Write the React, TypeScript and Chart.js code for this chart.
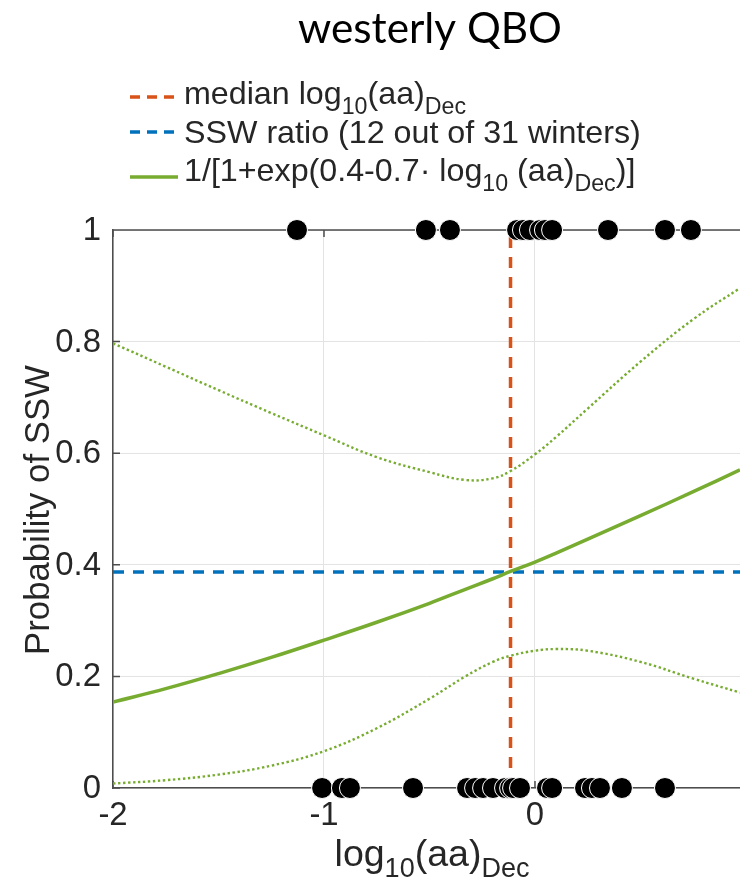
import React, { useEffect, useRef } from "react";
import { Chart, registerables } from "chart.js";

Chart.register(...registerables);

// ---- data ----
const curveX = [-2, -1.75, -1.5, -1.25, -1, -0.75, -0.5, -0.33, -0.2, -0.116, 0, 0.1, 0.25, 0.5, 0.75, 0.9716];
const fitY = [0.154, 0.178, 0.205, 0.234, 0.265, 0.297, 0.331, 0.356, 0.375, 0.388, 0.405, 0.421, 0.446, 0.488, 0.531, 0.57];
const upperY = [0.797, 0.755, 0.713, 0.672, 0.632, 0.593, 0.566, 0.552, 0.555, 0.568, 0.598, 0.629, 0.68, 0.764, 0.84, 0.896];
const lowerY = [0.008, 0.014, 0.024, 0.04, 0.066, 0.107, 0.16, 0.2, 0.226, 0.237, 0.246, 0.249, 0.246, 0.226, 0.196, 0.171];

const sswWintersX = [-1.128, -0.517, -0.403, -0.085, -0.057, -0.024, 0.024, 0.047, 0.081, 0.346, 0.616, 0.739];
const noSswWintersX = [-1.009, -0.915, -0.877, -0.578, -0.322, -0.284, -0.246, -0.199, -0.142, -0.118, -0.104, -0.071, 0.057, 0.081, 0.237, 0.27, 0.308, 0.412, 0.616];

const medianLogAa = -0.116;
const sswRatio = 0.387;

const xTicks = [-2, -1, 0];
const xTickLabels = ["-2", "-1", "0"];
const yTicks = [0, 0.2, 0.4, 0.6, 0.8, 1];
const yTickLabels = ["0", "0.2", "0.4", "0.6", "0.8", "1"];
const xMin = -2;
const xMax = 0.9716;

const titleText = "westerly QBO";
const legendLabels = [
  [{ t: "median log" }, { t: "10", sub: true }, { t: "(aa)" }, { t: "Dec", sub: true }],
  [{ t: "SSW ratio (12 out of 31 winters)" }],
  [{ t: "1/[1+exp(0.4-0.7\u00B7 log" }, { t: "10", sub: true }, { t: " (aa)" }, { t: "Dec", sub: true }, { t: ")]" }],
];
const xTitle = [{ t: "log" }, { t: "10", sub: true }, { t: "(aa)" }, { t: "Dec", sub: true }];
const yTitle = "Probability of SSW";

// ---- styles ----
const GREEN = "#77AC30";
const BLUE = "#0072BD";
const RED = "#D95319";
const AXIS = "#4d4d4d";
const GRID = "#e3e3e3";
const SANS = "'Liberation Sans', Arial, sans-serif";
const TITLE_FONT = "Lato, 'Open Sans', sans-serif";

type Part = { t: string; sub?: boolean };

function partsWidth(ctx: CanvasRenderingContext2D, parts: Part[], size: number, fam: string) {
  let w = 0;
  for (const p of parts) {
    ctx.font = `${p.sub ? size * 0.72 : size}px ${fam}`;
    w += ctx.measureText(p.t).width;
  }
  return w;
}

function drawParts(ctx: CanvasRenderingContext2D, parts: Part[], x: number, y: number, size: number, fam: string, align: "left" | "center") {
  const w = partsWidth(ctx, parts, size, fam);
  let cx = align === "center" ? x - w / 2 : x;
  ctx.textAlign = "left";
  ctx.textBaseline = "alphabetic";
  for (const p of parts) {
    const s = p.sub ? size * 0.72 : size;
    ctx.font = `${s}px ${fam}`;
    ctx.fillText(p.t, cx, p.sub ? y + size * 0.3 : y);
    cx += ctx.measureText(p.t).width;
  }
}

function fitSize(ctx: CanvasRenderingContext2D, parts: Part[], target: number, fam: string) {
  const w = partsWidth(ctx, parts, 100, fam);
  return (100 * target) / w;
}

const decorPlugin = {
  id: "decor",
  beforeDatasetsDraw(chart: any) {
    const { ctx, chartArea } = chart;
    const { left, right, top, bottom } = chartArea;
    const xs = chart.scales.x;
    const ys = chart.scales.y;
    ctx.save();
    ctx.strokeStyle = AXIS;
    ctx.lineWidth = 1.5;
    ctx.beginPath();
    ctx.moveTo(left, top);
    ctx.lineTo(right, top);
    for (const v of yTicks) {
      const py = ys.getPixelForValue(v);
      ctx.moveTo(left, py);
      ctx.lineTo(left + 7, py);
    }
    for (const v of xTicks) {
      const px = xs.getPixelForValue(v);
      ctx.moveTo(px, bottom);
      ctx.lineTo(px, bottom - 7);
      ctx.moveTo(px, top);
      ctx.lineTo(px, top + 7);
    }
    ctx.stroke();
    ctx.restore();
  },
  afterDraw(chart: any) {
    const { ctx, chartArea } = chart;
    const xs = chart.scales.x;
    const ys = chart.scales.y;
    ctx.save();

    // title
    const tSize = fitSize(ctx, [{ t: titleText }], 264, TITLE_FONT);
    ctx.fillStyle = "#000";
    drawParts(ctx, [{ t: titleText }], 430, 43, tSize, TITLE_FONT, "center");

    // legend
    ctx.fillStyle = "#262626";
    const lSize = fitSize(ctx, legendLabels[1], 457, SANS);
    const rows = [
      { y: 97, base: 104, color: RED, dash: [10, 7], w: 3.5 },
      { y: 132, base: 143, color: BLUE, dash: [10, 7], w: 3.5 },
      { y: 177, base: 181, color: GREEN, dash: [], w: 3.5 },
    ];
    rows.forEach((r, i) => {
      ctx.save();
      ctx.strokeStyle = r.color;
      ctx.lineWidth = r.w;
      ctx.setLineDash(r.dash);
      ctx.beginPath();
      ctx.moveTo(130, r.y);
      ctx.lineTo(178, r.y);
      ctx.stroke();
      ctx.restore();
      drawParts(ctx, legendLabels[i], 184, r.base, lSize, SANS, "left");
    });

    // tick labels
    const tickSize = lSize * 1.02;
    ctx.font = `${tickSize}px ${SANS}`;
    ctx.textAlign = "right";
    ctx.textBaseline = "middle";
    yTicks.forEach((v, i) => {
      ctx.fillText(yTickLabels[i], chartArea.left - 12, ys.getPixelForValue(v) + 1);
    });
    ctx.textAlign = "center";
    ctx.textBaseline = "top";
    xTicks.forEach((v, i) => {
      ctx.fillText(xTickLabels[i], xs.getPixelForValue(v), chartArea.bottom + 11);
    });

    // axis titles
    const xtSize = fitSize(ctx, xTitle, 195, SANS);
    drawParts(ctx, xTitle, 432, 866, xtSize, SANS, "center");

    const ytSize = fitSize(ctx, [{ t: yTitle }], 290, SANS);
    ctx.save();
    ctx.translate(49, 510);
    ctx.rotate(-Math.PI / 2);
    drawParts(ctx, [{ t: yTitle }], 0, 0, ytSize, SANS, "center");
    ctx.restore();

    ctx.restore();
  },
};

const zeroPad = (s: any) => {
  s.paddingLeft = 0;
  s.paddingRight = 0;
  s.paddingTop = 0;
  s.paddingBottom = 0;
};

export default function App() {
  const ref = useRef<HTMLCanvasElement | null>(null);
  useEffect(() => {
    document.body.style.margin = "0";
    const canvas = ref.current!;
    const pts = (xs: number[], ys: number[]) => xs.map((x, i) => ({ x, y: ys[i] }));
    const marker = {
      showLine: false,
      pointRadius: 10.5,
      pointBackgroundColor: "#000",
      pointBorderColor: "#fff",
      pointBorderWidth: 1,
      clip: false as any,
      order: 0,
    };
    const chart = new Chart(canvas, {
      type: "line",
      data: {
        datasets: [
          { label: "SSW", data: sswWintersX.map((x) => ({ x, y: 1 })), ...marker },
          { label: "no SSW", data: noSswWintersX.map((x) => ({ x, y: 0 })), ...marker },
          {
            label: "fit",
            data: pts(curveX, fitY),
            borderColor: GREEN,
            borderWidth: 3.5,
            pointRadius: 0,
            tension: 0.4,
            order: 1,
          },
          {
            label: "upper",
            data: pts(curveX, upperY),
            borderColor: GREEN,
            borderWidth: 2.4,
            borderDash: [2.4, 2.6],
            pointRadius: 0,
            tension: 0.4,
            order: 2,
          },
          {
            label: "lower",
            data: pts(curveX, lowerY),
            borderColor: GREEN,
            borderWidth: 2.4,
            borderDash: [2.4, 2.6],
            pointRadius: 0,
            tension: 0.4,
            order: 2,
          },
          {
            label: "ratio",
            data: [
              { x: xMin, y: sswRatio },
              { x: xMax, y: sswRatio },
            ],
            borderColor: BLUE,
            borderWidth: 3.5,
            borderDash: [11, 9],
            pointRadius: 0,
            order: 3,
          },
          {
            label: "median",
            data: [
              { x: medianLogAa, y: 0 },
              { x: medianLogAa, y: 1 },
            ],
            borderColor: RED,
            borderWidth: 3.5,
            borderDash: [11, 9],
            pointRadius: 0,
            order: 4,
          },
        ],
      },
      options: {
        responsive: false,
        animation: false,
        events: [],
        layout: { autoPadding: false, padding: { left: 113, top: 230, right: 0, bottom: 103 } },
        plugins: { legend: { display: false }, tooltip: { enabled: false }, title: { display: false } },
        scales: {
          x: {
            type: "linear",
            min: xMin,
            max: xMax,
            afterBuildTicks: (s: any) => {
              s.ticks = xTicks.map((v) => ({ value: v }));
            },
            afterFit: (s: any) => {
              s.height = 0;
              zeroPad(s);
            },
            ticks: { display: false },
            grid: { color: GRID, lineWidth: 1, tickLength: 0, drawTicks: false },
            border: { display: true, color: AXIS, width: 1.5 },
          },
          y: {
            type: "linear",
            min: 0,
            max: 1,
            afterBuildTicks: (s: any) => {
              s.ticks = yTicks.map((v) => ({ value: v }));
            },
            afterFit: (s: any) => {
              s.width = 0;
              zeroPad(s);
            },
            ticks: { display: false },
            grid: { color: GRID, lineWidth: 1, tickLength: 0, drawTicks: false },
            border: { display: true, color: AXIS, width: 1.5 },
          },
        },
      },
      plugins: [decorPlugin],
    });
    return () => chart.destroy();
  }, []);
  return <canvas ref={ref} width={740} height={891} style={{ display: "block" }} />;
}
